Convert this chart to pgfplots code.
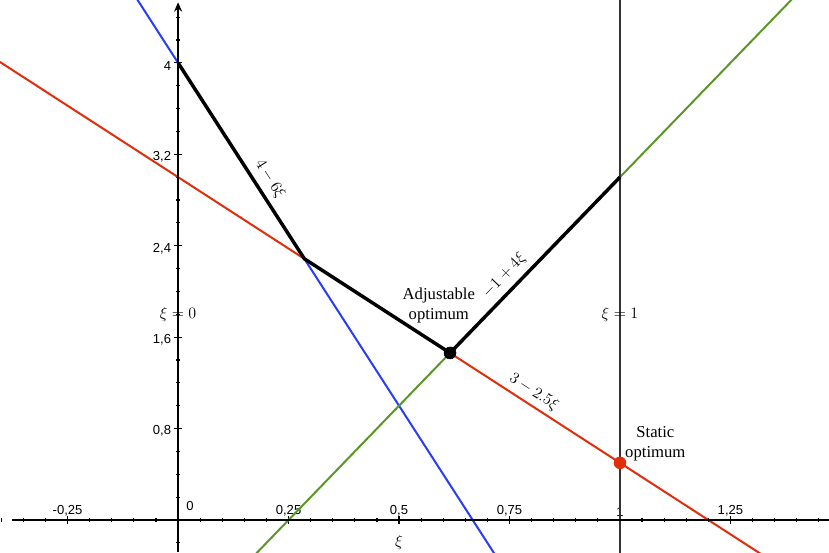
\documentclass[border=0pt]{standalone}
\usepackage{pgfplots}
\pgfplotsset{compat=1.18}
\usepackage{fontspec}
\setmainfont{Liberation Serif}
\setsansfont{Liberation Sans}
\usetikzlibrary{arrows.meta}
\definecolor{cblue}{RGB}{40,60,250}
\definecolor{cred}{RGB}{225,45,10}
\definecolor{cgreen}{RGB}{90,150,40}
\begin{document}
\begin{tikzpicture}
\begin{axis}[
  scale only axis, width=621.75pt, height=414pt,
  xmin=-0.403, xmax=1.473, ymin=-0.28, ymax=4.55,
  axis lines=middle,
  axis line style={draw=none},
  xtick={-0.25,0.25,0.5,0.75,1,1.25},
  xticklabels={{-0,25},{0,25},{0,5},{0,75},{1},{1,25}},
  ytick={0.8,1.6,2.4,3.2,4},
  yticklabels={{0,8},{1,6},{2,4},{3,2},{4}},
  minor xtick={-0.4,-0.35,...,1.46},
  minor ytick={-0.2,0,...,4.41},
  tick align=center,
  major tick length=5.5pt, minor tick length=3pt,
  every tick/.style={black, line width=0.9pt},
  xticklabel style={anchor=south, yshift=2pt, font=\sffamily\fontsize{9.8}{10}\selectfont},
  yticklabel style={anchor=east, xshift=1pt, yshift=-2pt, font=\sffamily\fontsize{9.8}{10}\selectfont},
  clip=true,
]
\addplot[cblue, line width=1.5pt] coordinates {(-0.2,5.2) (0.8,-0.8)};
\addplot[cred, line width=1.5pt] coordinates {(-0.45,4.125) (1.4,-0.5)};
\addplot[cgreen, line width=1.5pt] coordinates {(0.1,-0.6) (1.5,5)};
\addplot[black!80, line width=0.8pt] coordinates {(1,-0.3) (1,4.6)};
\addplot[black, line width=2.6pt, line join=round] coordinates {(0,4) (0.285714,2.285714) (0.615385,1.461538) (1,3)};
\addplot[black, only marks, mark=*, mark size=4.5pt] coordinates {(0.615385,1.461538)};
\addplot[cred, only marks, mark=*, mark options={fill=cred, draw=cred}, mark size=4.5pt] coordinates {(1,0.5)};
\draw[black, line width=1.3pt] (axis cs:-0.375,0) -- (axis cs:1.473,0);
\draw[black, line width=1.3pt, -{Stealth[length=7pt,width=6pt]}] (axis cs:0,-0.28) -- (axis cs:0,4.53);
\node[font=\sffamily\fontsize{9.8}{10}\selectfont] at (axis cs:0.027,0.12) {0};
\node[font=\fontsize{13}{14}\selectfont] at (axis cs:0,1.794) {$\xi = 0$};
\node[font=\fontsize{13}{14}\selectfont] at (axis cs:1,1.794) {$\xi = 1$};
\node[font=\fontsize{13}{14}\selectfont] at (axis cs:0.5,-0.2) {$\xi$};
\node[font=\fontsize{12.5}{15}\selectfont, align=center] at (axis cs:0.59,1.88) {Adjustable\\optimum};
\node[font=\fontsize{12.5}{15}\selectfont, align=center] at (axis cs:1.08,0.67) {Static\\optimum};
\node[font=\fontsize{13}{14}\selectfont, rotate=-57.2] at (axis cs:0.208,2.985) {$4-6\xi$};
\node[font=\fontsize{13}{14}\selectfont, rotate=46] at (axis cs:0.738,2.14) {$-1+4\xi$};
\node[font=\fontsize{13}{14}\selectfont, rotate=-33] at (axis cs:0.805,1.12) {$3-2.5\xi$};
\end{axis}
\pgfresetboundingbox
\path[use as bounding box] (current axis.south west) rectangle (current axis.north east);
\end{tikzpicture}
\end{document}
